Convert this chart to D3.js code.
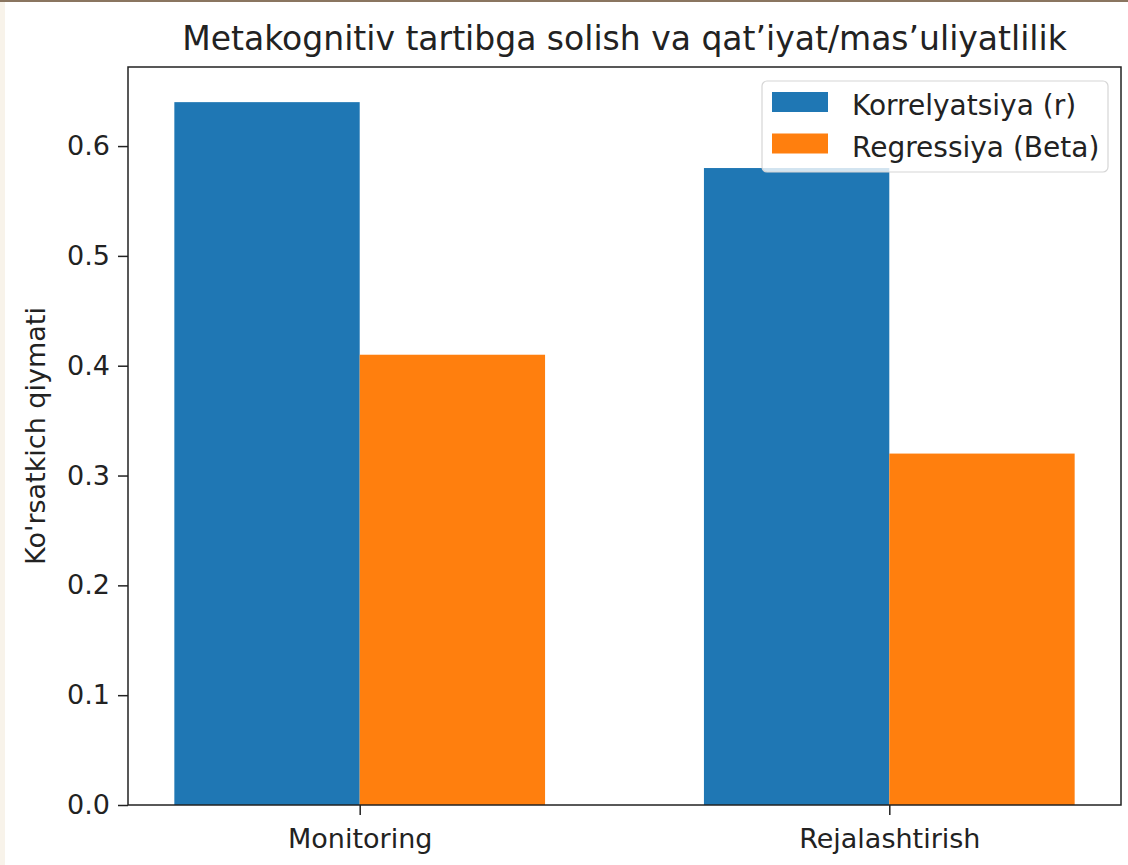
<!DOCTYPE html>
<html>
<head>
<meta charset="utf-8">
<script src="https://cdn.jsdelivr.net/npm/d3@7"></script>
<style>
  body { margin: 0; background: #fff; }
  svg text { font-family: "DejaVu Sans", sans-serif; fill: #222; }
</style>
</head>
<body>
<svg id="chart"></svg>
<script>
// Data
var categories = ['Monitoring', 'Rejalashtirish'];
var seriesNames = ['Korrelyatsiya (r)', 'Regressiya (Beta)'];
var correlation = [0.64, 0.58];
var regression = [0.41, 0.32];
var yTicks = [0.0, 0.1, 0.2, 0.3, 0.4, 0.5, 0.6];

var width = 1128,
    height = 865,
    margin = {top: 67, right: 7, bottom: 60, left: 128},
    colors = ['#1f77b4', '#ff7f0e'],
    barWidth = 0.35,
    fontSize = 27;

var svg = d3.select('#chart')
    .attr('width', width)
    .attr('height', height);

// screenshot edges
svg.append('rect').attr('x', 0).attr('y', 0).attr('width', 5).attr('height', height).style('fill', '#f8f3ea');
svg.append('rect').attr('x', 0).attr('y', 0).attr('width', width).attr('height', 2).style('fill', '#8a7560');

var plotW = width - margin.left - margin.right,
    plotH = height - margin.top - margin.bottom;

var g = svg.append('g')
    .attr('transform', 'translate(' + margin.left + ',' + margin.top + ')');

var xScale = d3.scaleLinear()
    .domain([-barWidth - barWidth / 4, categories.length - 1 + barWidth + barWidth / 4])
    .range([0, plotW]);

var yMax = d3.max(correlation.concat(regression)) * 1.05;
var yScale = d3.scaleLinear()
    .domain([0, yMax])
    .range([plotH, 0]);

var series = [correlation, regression];

// bars
series.forEach(function(values, s) {
    g.selectAll('.bar-' + s)
        .data(values)
        .enter().append('rect')
        .attr('class', 'bar-' + s)
        .attr('x', function(d, i) { return xScale(i + (s === 0 ? -barWidth : 0)); })
        .attr('y', function(d) { return yScale(d); })
        .attr('width', xScale(barWidth) - xScale(0))
        .attr('height', function(d) { return yScale(0) - yScale(d); })
        .style('fill', colors[s]);
});

// axes
var yAxis = d3.axisLeft(yScale)
    .tickValues(yTicks)
    .tickSize(10)
    .tickPadding(8)
    .tickFormat(d3.format('.1f'));

var xAxis = d3.axisBottom(xScale)
    .tickValues(d3.range(categories.length))
    .tickSize(10)
    .tickPadding(14)
    .tickFormat(function(d) { return categories[d]; });

var yG = g.append('g').call(yAxis);
var xG = g.append('g').attr('transform', 'translate(0,' + plotH + ')').call(xAxis);

[yG, xG].forEach(function(ax) {
    ax.select('.domain').remove();
    ax.selectAll('line').style('stroke', '#222').style('stroke-width', 1.5);
    ax.selectAll('text').style('font-size', fontSize + 'px').style('fill', '#222')
        .style('font-family', '"DejaVu Sans", sans-serif');
});

// frame
g.append('rect')
    .attr('width', plotW)
    .attr('height', plotH)
    .style('fill', 'none')
    .style('stroke', '#222')
    .style('stroke-width', 1.5);

// title
svg.append('text')
    .attr('x', margin.left + plotW / 2)
    .attr('y', 50)
    .attr('text-anchor', 'middle')
    .style('font-size', '33px')
    .text('Metakognitiv tartibga solish va qat\u2019iyat/mas\u2019uliyatlilik');

// y label
svg.append('text')
    .attr('transform', 'translate(45,' + (margin.top + plotH / 2) + ') rotate(-90)')
    .attr('text-anchor', 'middle')
    .style('font-size', fontSize + 'px')
    .text("Ko'rsatkich qiymati");

// legend
var legend = g.append('g')
    .attr('transform', 'translate(' + (plotW - 359) + ',14)');

legend.append('rect')
    .attr('width', 346)
    .attr('height', 91)
    .attr('rx', 5)
    .style('fill', 'rgba(255,255,255,0.8)')
    .style('stroke', '#d6d6d6')
    .style('stroke-width', 1.2);

var item = legend.selectAll('.legend-item')
    .data(seriesNames)
    .enter().append('g')
    .attr('class', 'legend-item')
    .attr('transform', function(d, i) { return 'translate(10,' + (11 + i * 41.5) + ')'; });

item.append('rect')
    .attr('width', 56)
    .attr('height', 20)
    .style('fill', function(d, i) { return colors[i]; });

item.append('text')
    .attr('x', 80)
    .attr('y', 23)
    .style('font-size', '28px')
    .text(function(d) { return d; });
</script>
</body>
</html>
